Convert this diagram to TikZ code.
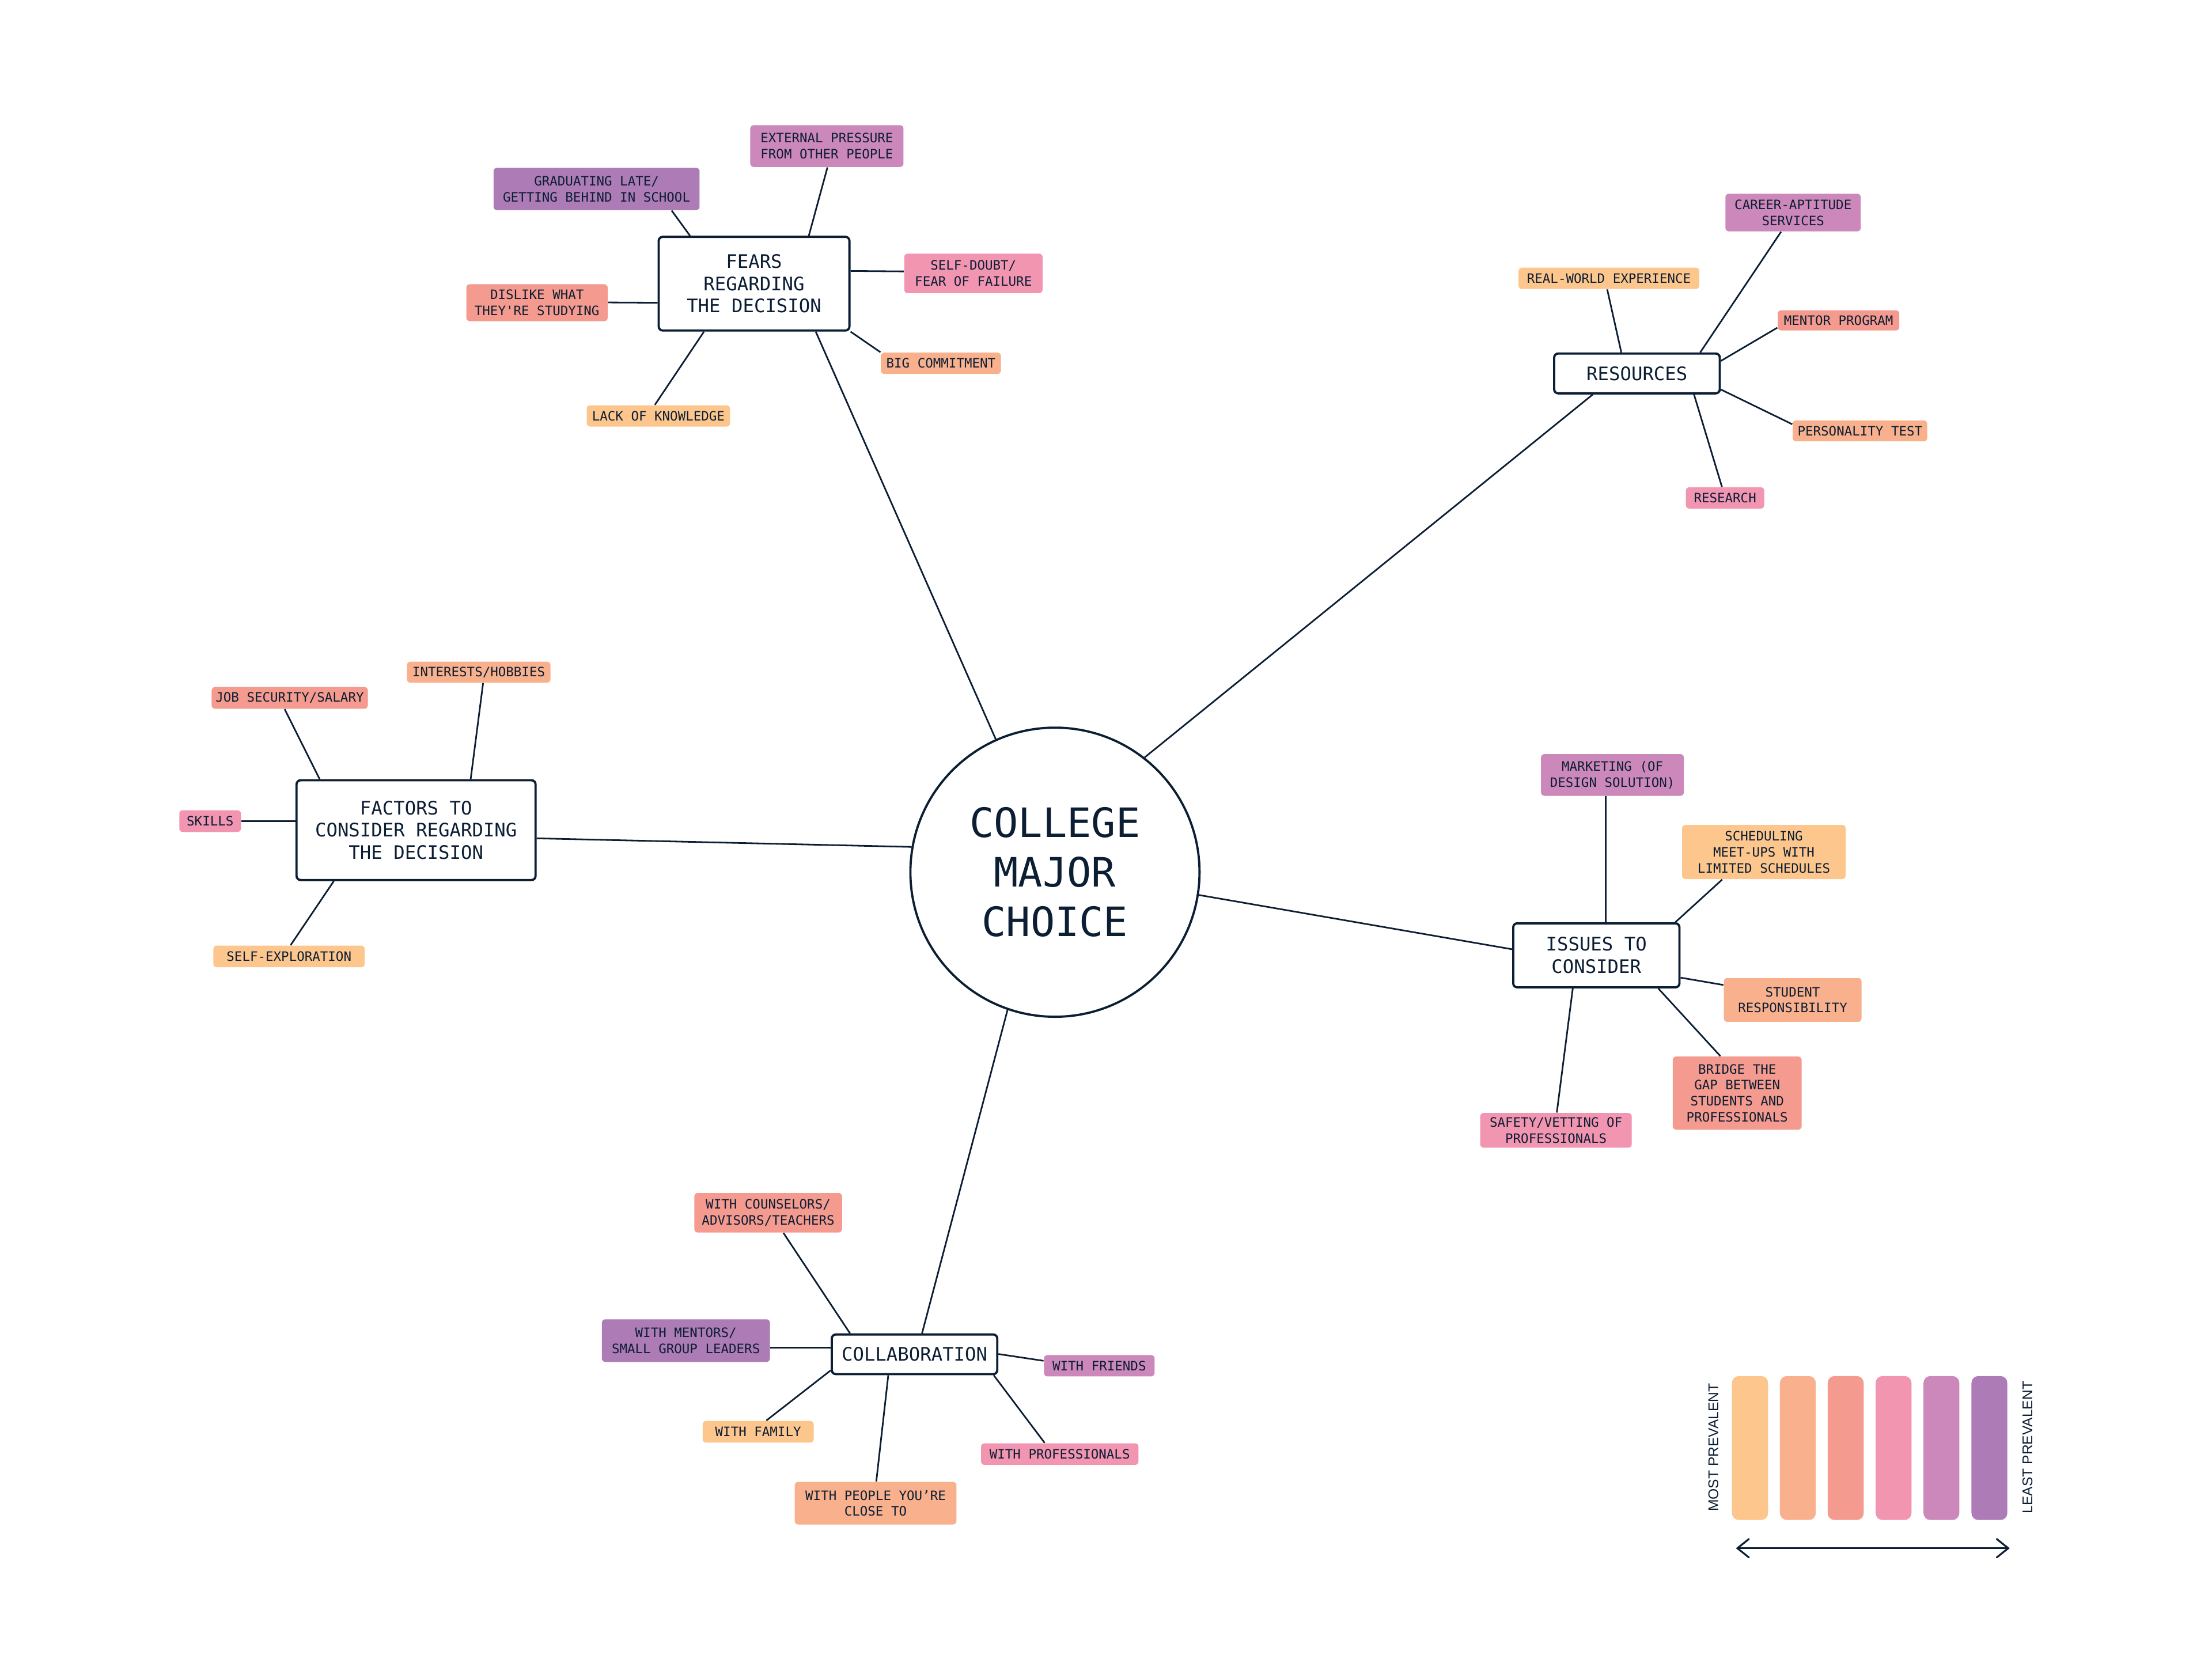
\documentclass[tikz,border=0pt]{standalone}
\usepackage{fontspec}
\newfontfamily\monofont{DejaVu Sans Mono}
\newfontfamily\legendfont{Liberation Sans}
\usetikzlibrary{arrows.meta}
\definecolor{ink}{HTML}{0C1E33}
\definecolor{c1}{HTML}{FDC68D}
\definecolor{c2}{HTML}{F9B08D}
\definecolor{c3}{HTML}{F49A8E}
\definecolor{c4}{HTML}{F295B1}
\definecolor{c5}{HTML}{CC88BA}
\definecolor{c6}{HTML}{AD7BB5}
\tikzset{
  mainbox/.style={draw=ink, line width=1.1pt, rounded corners=0.07cm, fill=white, text=ink,
    font=\monofont\fontsize{9.2}{11}\selectfont, align=center, inner sep=0pt},
  leaf/.style={fill=#1, rounded corners=0.06cm, text=ink,
    font=\monofont\fontsize{6.4}{7.9}\selectfont, align=center, inner sep=0pt},
  sz/.style 2 args={minimum width=#1cm, minimum height=#2cm},
  link/.style={draw=ink, line width=0.8pt},
  legendtext/.style={text=ink, font=\legendfont\fontsize{7}{8}\selectfont, inner sep=0pt},
  bar/.style={fill=#1, rounded corners=0.12cm},
}
\begin{document}
\begin{tikzpicture}[x=0.0245cm, y=-0.0245cm]
\useasboundingbox (0,0) rectangle (1567.35,1175.5);
\fill[white] (0,0) rectangle (1567.35,1175.5);

% centre
\node[circle, draw=ink, line width=1.1pt, minimum size=5.02cm, inner sep=0pt, text=ink, align=center,
  font=\monofont\fontsize{20}{24.4}\selectfont] (center) at (747.5,618) {COLLEGE\\MAJOR\\CHOICE};

% fears
\node[mainbox, sz={3.312}{1.627}] (fears) at (534.3,201) {FEARS\\REGARDING\\THE DECISION};
\node[leaf=c6, sz={3.577}{0.735}] (grad) at (422.7,133.9) {GRADUATING LATE/\\GETTING BEHIND IN SCHOOL};
\node[leaf=c5, sz={2.661}{0.725}] (ext) at (585.9,103.5) {EXTERNAL PRESSURE\\FROM OTHER PEOPLE};
\node[leaf=c4, sz={2.401}{0.686}] (selfdoubt) at (689.7,193.7) {SELF-DOUBT/\\FEAR OF FAILURE};
\node[leaf=c3, sz={2.455}{0.642}] (dislike) at (380.5,214.5) {DISLIKE WHAT\\THEY\textquotesingle RE STUDYING};
\node[leaf=c2, sz={2.085}{0.37}] (big) at (666.7,257.4) {BIG COMMITMENT};
\node[leaf=c1, sz={2.489}{0.37}] (lack) at (466.5,294.7) {LACK OF KNOWLEDGE};

% resources
\node[mainbox, sz={2.876}{0.691}] (res) at (1159.9,264.6) {RESOURCES};
\node[leaf=c5, sz={2.350}{0.652}] (career) at (1270.5,150.6) {CAREER-APTITUDE\\SERVICES};
\node[leaf=c1, sz={3.138}{0.37}] (real) at (1140,197.2) {REAL-WORLD EXPERIENCE};
\node[leaf=c3, sz={2.112}{0.35}] (mentor) at (1302.7,227) {MENTOR PROGRAM};
\node[leaf=c2, sz={2.337}{0.363}] (personality) at (1317.9,305.3) {PERSONALITY TEST};
\node[leaf=c4, sz={1.36}{0.37}] (research) at (1222.3,352.8) {RESEARCH};

% factors
\node[mainbox, sz={4.150}{1.732}] (factors) at (294.8,588.2) {FACTORS TO\\CONSIDER REGARDING\\THE DECISION};
\node[leaf=c2, sz={2.492}{0.365}] (interests) at (339.2,476.3) {INTERESTS/HOBBIES};
\node[leaf=c3, sz={2.712}{0.377}] (job) at (205.3,494.5) {JOB SECURITY/SALARY};
\node[leaf=c4, sz={1.071}{0.377}] (skills) at (148.9,581.8) {SKILLS};
\node[leaf=c1, sz={2.626}{0.377}] (selfexp) at (204.8,677.7) {SELF-EXPLORATION};

% issues
\node[mainbox, sz={2.886}{1.112}] (issues) at (1131.1,676.9) {ISSUES TO\\CONSIDER};
\node[leaf=c5, sz={2.479}{0.725}] (marketing) at (1142.5,549.1) {MARKETING (OF\\DESIGN SOLUTION)};
\node[leaf=c1, sz={2.840}{0.941}] (scheduling) at (1249.8,603.7) {SCHEDULING\\MEET-UPS WITH\\LIMITED SCHEDULES};
\node[leaf=c2, sz={2.391}{0.762}] (student) at (1270.2,708.5) {STUDENT\\RESPONSIBILITY};
\node[leaf=c3, sz={2.239}{1.269}] (bridge) at (1230.9,774.5) {BRIDGE THE\\GAP BETWEEN\\STUDENTS AND\\PROFESSIONALS};
\node[leaf=c4, sz={2.631}{0.603}] (safety) at (1102.5,800.9) {SAFETY/VETTING OF\\PROFESSIONALS};

% collaboration
\node[mainbox, sz={2.874}{0.688}] (collab) at (648,959.6) {COLLABORATION};
\node[leaf=c3, sz={2.565}{0.686}] (counselors) at (544.3,859.3) {WITH COUNSELORS/\\ADVISORS/TEACHERS};
\node[leaf=c6, sz={2.918}{0.740}] (mentors) at (486,949.9) {WITH MENTORS/\\SMALL GROUP LEADERS};
\node[leaf=c5, sz={1.921}{0.37}] (friends) at (778.9,967.7) {WITH FRIENDS};
\node[leaf=c1, sz={1.928}{0.377}] (family) at (537.2,1014.5) {WITH FAMILY};
\node[leaf=c2, sz={2.810}{0.740}] (people) at (620.4,1065.1) {WITH PEOPLE YOU’RE\\CLOSE TO};
\node[leaf=c4, sz={2.734}{0.375}] (professionals) at (750.9,1030.3) {WITH PROFESSIONALS};

% connectors: fears
\draw[link] (grad.south -| 475.9,0) -- (fears.north -| 488.9,0);
\draw[link] (ext.south -| 586.3,0) -- (fears.north -| 573.1,0);
\draw[link] (fears.east |- 0,192) -- (selfdoubt.west |- 0,192.3);
\draw[link] (dislike.east |- 0,214.3) -- (fears.west |- 0,214.5);
\draw[link] (fears.south east) -- (big.north west);
\draw[link] (lack.north -| 464,0) -- (fears.south -| 498.8,0);
\draw[link] (fears.south -| 578,0) -- (center.114);

% connectors: resources
\draw[link] (career.south -| 1262,0) -- (res.north -| 1204.7,0);
\draw[link] (real.south -| 1138.8,0) -- (res.north -| 1148.8,0);
\draw[link] (mentor.west |- 0,232.2) -- (res.east |- 0,255.7);
\draw[link] (personality.west |- 0,300.6) -- (res.east |- 0,276);
\draw[link] (research.north -| 1220.1,0) -- (res.south -| 1200.3,0);
\draw[link] (res.south -| 1128.6,0) -- (center.52);

% connectors: factors
\draw[link] (interests.south -| 342.3,0) -- (factors.north -| 333.5,0);
\draw[link] (job.south -| 201.7,0) -- (factors.north -| 226.5,0);
\draw[link] (skills.east) -- (factors.west |- skills.east);
\draw[link] (selfexp.north -| 205.9,0) -- (factors.south -| 236.5,0);
\draw[link] (factors.east |- 0,594) -- (center.170.5);

% connectors: issues
\draw[link] (marketing.south -| 1137.9,0) -- (issues.north -| 1137.9,0);
\draw[link] (scheduling.south -| 1220.3,0) -- (issues.north -| 1187.1,0);
\draw[link] (issues.east |- 0,692.7) -- (student.west |- 0,697.9);
\draw[link] (issues.south -| 1175,0) -- (bridge.north -| 1219,0);
\draw[link] (safety.north -| 1103.1,0) -- (issues.south -| 1114.4,0);
\draw[link] (issues.west |- 0,672.6) -- (center.-9);

% connectors: collaboration
\draw[link] (counselors.south -| 555.1,0) -- (collab.north -| 602.3,0);
\draw[link] (mentors.east |- 0,955) -- (collab.west |- 0,955);
\draw[link] (collab.east |- 0,959.4) -- (friends.west |- 0,964.2);
\draw[link] (family.north -| 543,0) -- (collab.west |- 0,971);
\draw[link] (people.north -| 620.9,0) -- (collab.south -| 629.4,0);
\draw[link] (professionals.north -| 740.2,0) -- (collab.south -| 704.1,0);
\draw[link] (collab.north -| 653.3,0) -- (center.251.5);

% legend
\fill[bar=c1] (1227.2,975) rectangle (1252.8,1077);
\fill[bar=c2] (1261.2,975) rectangle (1286.6,1077);
\fill[bar=c3] (1295,975) rectangle (1320.5,1077);
\fill[bar=c4] (1329,975) rectangle (1354.4,1077);
\fill[bar=c5] (1362.9,975) rectangle (1388.3,1077);
\fill[bar=c6] (1396.9,975) rectangle (1422.3,1077);
\node[legendtext, rotate=90] (most) at (1214,1025.5) {MOST PREVALENT};
\node[legendtext, rotate=90] (least) at (1436.6,1025.5) {LEAST PREVALENT};
\coordinate (arL) at (1230,1097);
\coordinate (arR) at (1424,1097);
\draw[link, line width=0.9pt, line join=round,
  {Straight Barb[length=0.2cm,width=0.32cm,line cap=round]}-{Straight Barb[length=0.2cm,width=0.32cm,line cap=round]}]
  (arL) -- (arR);
\end{tikzpicture}
\end{document}
